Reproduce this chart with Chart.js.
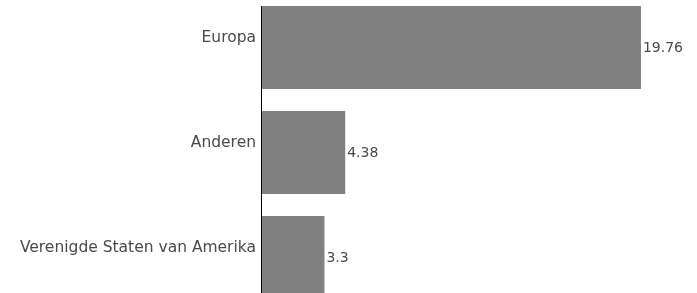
<!DOCTYPE html>
<html><head><meta charset="utf-8">
<script src="https://cdn.jsdelivr.net/npm/chart.js@4/dist/chart.umd.min.js"></script>
<style>
html,body{margin:0;padding:0;background:#fff;overflow:hidden;width:697px;height:293px;}
#wrap{position:absolute;left:0;top:-5px;width:697px;height:315px;}
</style></head>
<body>
<div id="wrap"><canvas id="c" width="697" height="315"></canvas></div>
<script>
const categories = ["Europa", "Anderen", "Verenigde Staten van Amerika"];
const values = [19.76, 4.38, 3.3];
const valueLabels = ["19.76", "4.38", "3.3"];

const FONT = "'DejaVu Sans', sans-serif";
const TEXT = "#4a4a4a";

const extras = {
  id: 'extras',
  afterDatasetsDraw(chart) {
    const ctx = chart.ctx;
    const meta = chart.getDatasetMeta(0);
    const area = chart.chartArea;
    ctx.save();
    const top = meta.data[0].y - meta.data[0].height / 2;
    ctx.strokeStyle = '#000';
    ctx.lineWidth = 1;
    ctx.beginPath();
    ctx.moveTo(area.left + 0.5, top);
    ctx.lineTo(area.left + 0.5, area.bottom);
    ctx.stroke();
    ctx.fillStyle = TEXT;
    ctx.font = "14px " + FONT;
    ctx.textAlign = 'left';
    ctx.textBaseline = 'middle';
    meta.data.forEach((bar, i) => {
      ctx.fillText(valueLabels[i], bar.x + 2, bar.y + 1);
    });
    ctx.restore();
  }
};

new Chart(document.getElementById('c'), {
  type: 'bar',
  data: {
    labels: categories,
    datasets: [{
      data: values,
      backgroundColor: '#808080',
      borderWidth: 0,
      categoryPercentage: 1,
      barPercentage: 0.79
    }]
  },
  options: {
    indexAxis: 'y',
    responsive: false,
    animation: false,
    layout: { padding: { left: 0, right: 13, top: 0, bottom: 0 } },
    plugins: { legend: { display: false }, tooltip: { enabled: false } },
    scales: {
      x: { display: false, min: 0, max: 22 },
      y: {
        grid: { display: false, drawTicks: false, tickLength: 0 },
        border: { display: false },
        ticks: { color: TEXT, font: { family: FONT, size: 15.5 }, padding: 5, labelOffset: -10 },
        afterFit(scale) { scale.width = 261; scale.paddingTop = 0; scale.paddingBottom = 0; }
      }
    }
  },
  plugins: [extras]
});
</script>
</body></html>
